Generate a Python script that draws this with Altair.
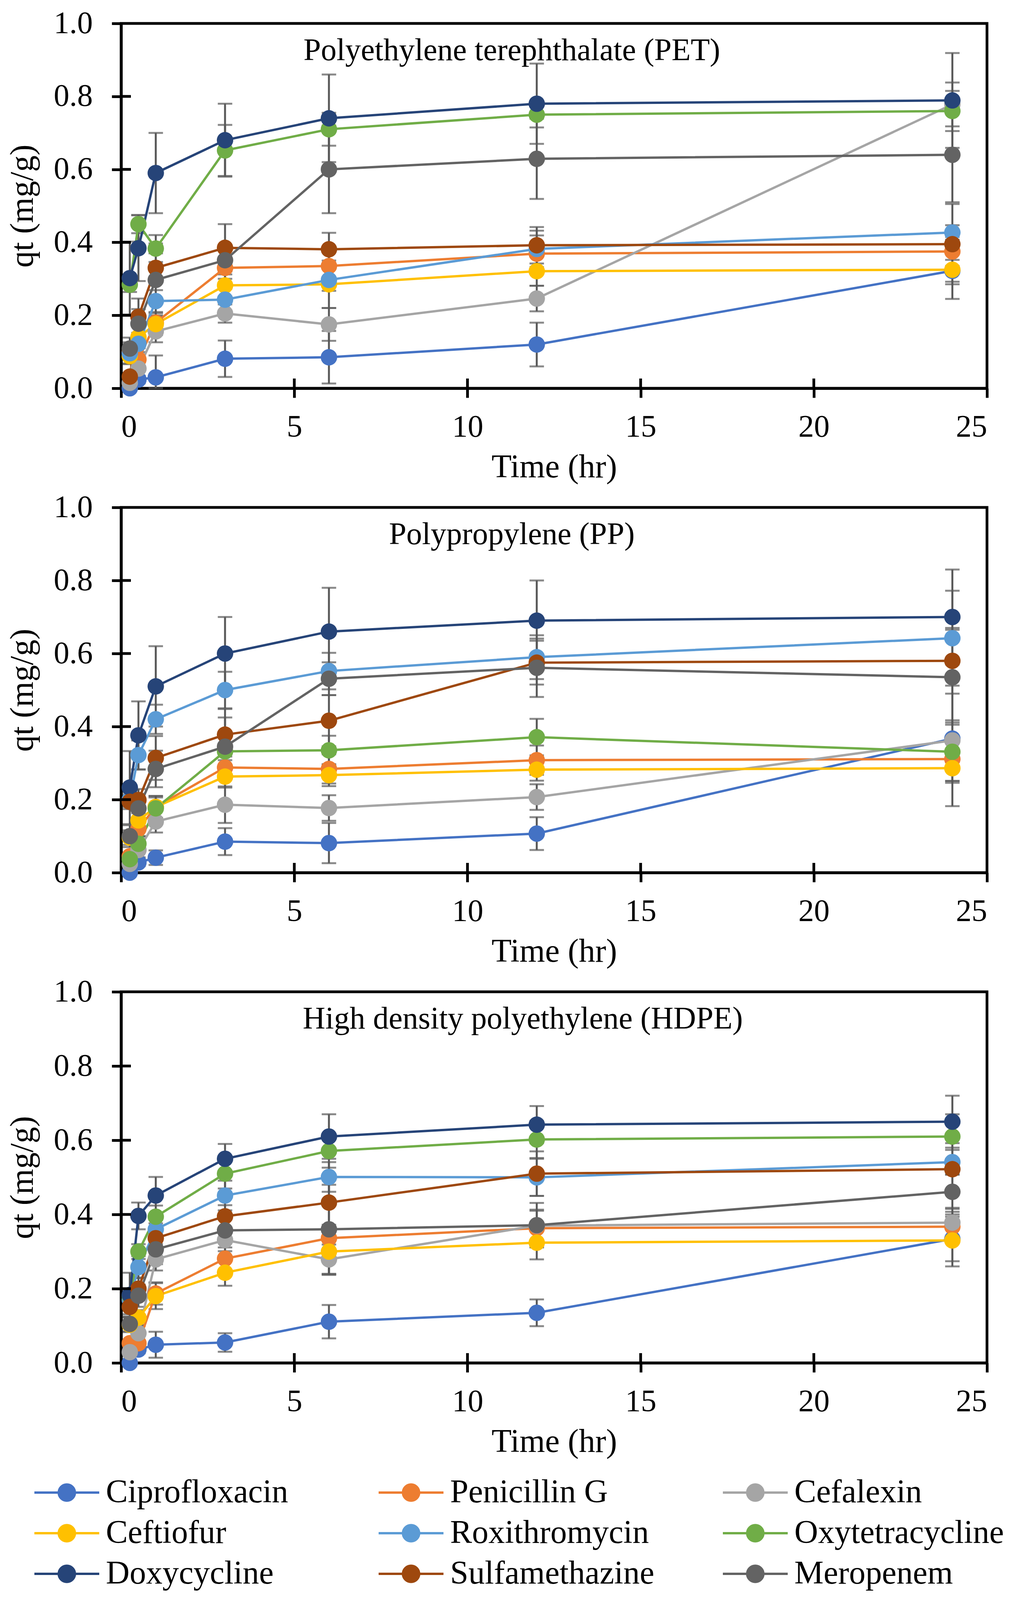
import altair as alt
import pandas as pd

# ---------------- data ----------------
TIMES = [0.25, 0.5, 1, 3, 6, 12, 24]
ANTIBIOTICS = ["Ciprofloxacin", "Penicillin G", "Cefalexin",
               "Ceftiofur", "Roxithromycin", "Oxytetracycline",
               "Doxycycline", "Sulfamethazine", "Meropenem"]
COLORS = ["#4472C4", "#ED7D31", "#A5A5A5",
          "#FFC000", "#5B9BD5", "#70AD47",
          "#264478", "#9E480E", "#636363"]
PANEL_TITLES = ["Polyethylene terephthalate (PET)",
                "Polypropylene (PP)",
                "High density polyethylene (HDPE)"]
X_TICKS = [0, 5, 10, 15, 20, 25]
Y_TICKS = [0.0, 0.2, 0.4, 0.6, 0.8, 1.0]

PET_QT = {
    "Ciprofloxacin":   [0.000, 0.024, 0.030, 0.081, 0.085, 0.120, 0.322],
    "Penicillin G":    [0.100, 0.079, 0.180, 0.330, 0.335, 0.369, 0.375],
    "Cefalexin":       [0.015, 0.054, 0.156, 0.205, 0.175, 0.246, 0.778],
    "Ceftiofur":       [0.088, 0.140, 0.176, 0.282, 0.285, 0.321, 0.325],
    "Roxithromycin":   [0.096, 0.122, 0.239, 0.243, 0.297, 0.382, 0.427],
    "Oxytetracycline": [0.284, 0.450, 0.383, 0.652, 0.710, 0.750, 0.760],
    "Doxycycline":     [0.302, 0.384, 0.590, 0.680, 0.740, 0.780, 0.789],
    "Sulfamethazine":  [0.032, 0.196, 0.330, 0.385, 0.381, 0.392, 0.395],
    "Meropenem":       [0.109, 0.177, 0.297, 0.351, 0.600, 0.629, 0.640],
}
PET_SD = {
    "Ciprofloxacin":   [0.005, 0.010, 0.060, 0.050, 0.072, 0.060, 0.030],
    "Penicillin G":    [0.020, 0.020, 0.020, 0.030, 0.040, 0.050, 0.040],
    "Cefalexin":       [0.010, 0.020, 0.030, 0.025, 0.045, 0.035, 0.060],
    "Ceftiofur":       [0.020, 0.030, 0.030, 0.030, 0.065, 0.040, 0.080],
    "Roxithromycin":   [0.030, 0.030, 0.030, 0.030, 0.030, 0.050, 0.020],
    "Oxytetracycline": [0.020, 0.025, 0.037, 0.070, 0.045, 0.035, 0.055],
    "Doxycycline":     [0.100, 0.090, 0.110, 0.100, 0.120, 0.110, 0.130],
    "Sulfamethazine":  [0.010, 0.050, 0.040, 0.065, 0.045, 0.050, 0.110],
    "Meropenem":       [0.030, 0.040, 0.100, 0.030, 0.120, 0.110, 0.130],
}

PP_QT = {
    "Ciprofloxacin":   [0.000, 0.028, 0.041, 0.085, 0.081, 0.107, 0.367],
    "Penicillin G":    [0.045, 0.120, 0.180, 0.288, 0.284, 0.308, 0.311],
    "Cefalexin":       [0.024, 0.062, 0.140, 0.186, 0.177, 0.207, 0.362],
    "Ceftiofur":       [0.096, 0.143, 0.180, 0.263, 0.267, 0.282, 0.286],
    "Roxithromycin":   [0.200, 0.322, 0.420, 0.500, 0.552, 0.590, 0.642],
    "Oxytetracycline": [0.037, 0.079, 0.176, 0.332, 0.335, 0.371, 0.331],
    "Doxycycline":     [0.233, 0.376, 0.510, 0.600, 0.660, 0.690, 0.700],
    "Sulfamethazine":  [0.194, 0.199, 0.314, 0.378, 0.416, 0.575, 0.580],
    "Meropenem":       [0.100, 0.176, 0.284, 0.345, 0.531, 0.561, 0.535],
}
PP_SD = {
    "Ciprofloxacin":   [0.005, 0.010, 0.020, 0.037, 0.055, 0.045, 0.050],
    "Penicillin G":    [0.010, 0.020, 0.030, 0.030, 0.040, 0.040, 0.060],
    "Cefalexin":       [0.010, 0.020, 0.030, 0.050, 0.035, 0.035, 0.180],
    "Ceftiofur":       [0.020, 0.020, 0.030, 0.030, 0.030, 0.030, 0.040],
    "Roxithromycin":   [0.020, 0.040, 0.040, 0.050, 0.050, 0.060, 0.130],
    "Oxytetracycline": [0.010, 0.020, 0.030, 0.050, 0.040, 0.050, 0.080],
    "Doxycycline":     [0.100, 0.093, 0.110, 0.100, 0.120, 0.110, 0.130],
    "Sulfamethazine":  [0.020, 0.030, 0.060, 0.070, 0.070, 0.060, 0.090],
    "Meropenem":       [0.030, 0.040, 0.050, 0.080, 0.045, 0.080, 0.130],
}

HDPE_QT = {
    "Ciprofloxacin":   [0.000, 0.036, 0.049, 0.055, 0.111, 0.135, 0.334],
    "Penicillin G":    [0.053, 0.053, 0.187, 0.281, 0.336, 0.363, 0.367],
    "Cefalexin":       [0.029, 0.080, 0.279, 0.331, 0.279, 0.370, 0.378],
    "Ceftiofur":       [0.103, 0.122, 0.180, 0.243, 0.300, 0.324, 0.330],
    "Roxithromycin":   [0.170, 0.258, 0.360, 0.451, 0.501, 0.500, 0.541],
    "Oxytetracycline": [0.180, 0.300, 0.394, 0.510, 0.571, 0.602, 0.610],
    "Doxycycline":     [0.183, 0.396, 0.451, 0.550, 0.610, 0.642, 0.650],
    "Sulfamethazine":  [0.151, 0.200, 0.336, 0.395, 0.432, 0.510, 0.522],
    "Meropenem":       [0.105, 0.181, 0.306, 0.357, 0.360, 0.371, 0.461],
}
HDPE_SD = {
    "Ciprofloxacin":   [0.005, 0.010, 0.035, 0.025, 0.045, 0.036, 0.060],
    "Penicillin G":    [0.010, 0.020, 0.030, 0.030, 0.030, 0.050, 0.040],
    "Cefalexin":       [0.010, 0.020, 0.030, 0.030, 0.040, 0.040, 0.040],
    "Ceftiofur":       [0.020, 0.020, 0.035, 0.035, 0.063, 0.045, 0.070],
    "Roxithromycin":   [0.020, 0.030, 0.040, 0.040, 0.040, 0.050, 0.033],
    "Oxytetracycline": [0.020, 0.020, 0.030, 0.040, 0.045, 0.050, 0.060],
    "Doxycycline":     [0.060, 0.036, 0.050, 0.040, 0.060, 0.050, 0.070],
    "Sulfamethazine":  [0.020, 0.030, 0.040, 0.030, 0.060, 0.060, 0.070],
    "Meropenem":       [0.020, 0.030, 0.040, 0.030, 0.120, 0.060, 0.046],
}

PANELS = [(PET_QT, PET_SD), (PP_QT, PP_SD), (HDPE_QT, HDPE_SD)]

# ---------------- style ----------------
FONT = "Liberation Serif"
PLOT_W = 2216
PLOT_H = [934, 935, 950]
TITLE_X = [1000, 1000, 1028]
TITLE_Y = 94
IN_TICK = 25
LEGEND_PATH = ("M-1,0L1,0M-0.25,0A0.25,0.25,0,1,1,0.25,0"
               "A0.25,0.25,0,1,1,-0.25,0Z")


def make_frame(qt, sd):
    rows = []
    for name in ANTIBIOTICS:
        for t, v, e in zip(TIMES, qt[name], sd[name]):
            rows.append({"drug": name, "t": t, "qt": v,
                         "lo": max(0.0, v - e), "hi": min(1.0, v + e)})
    return pd.DataFrame(rows)


xscale = alt.Scale(domain=[0, 25], nice=False, zero=False)
yscale = alt.Scale(domain=[0, 1], nice=False)
xaxis = alt.Axis(values=X_TICKS, format="d", title="Time (hr)",
                 labelFont=FONT, titleFont=FONT)
yaxis = alt.Axis(values=Y_TICKS, format=".1f", title="qt (mg/g)",
                 labelFont=FONT, titleFont=FONT)

legend = alt.Legend(
    title=None, orient="none", legendX=-225, legendY=3713,
    direction="horizontal",
    columns=3, gridAlign="all", columnPadding=158, rowPadding=8,
    clipHeight=96, padding=0,
    symbolType=LEGEND_PATH, symbolSize=27556, symbolStrokeWidth=6,
    symbolOpacity=1,
    labelFont=FONT, labelFontSize=84, labelColor="black",
    labelOffset=14, labelLimit=1200,
)
color = alt.Color("drug:N", scale=alt.Scale(domain=ANTIBIOTICS, range=COLORS),
                  sort=ANTIBIOTICS, legend=legend)


def panel(i):
    qt, sd = PANELS[i]
    df = make_frame(qt, sd)
    h = PLOT_H[i]
    x = alt.X("t:Q", scale=xscale, axis=xaxis)

    bars = alt.Chart(df).mark_errorbar(
        color="#595959", thickness=5, size=37, ticks=True
    ).encode(
        x=x,
        y=alt.Y("lo:Q", scale=yscale, axis=yaxis, title="qt (mg/g)"),
        y2="hi:Q",
    )
    lines = alt.Chart(df).mark_line(strokeWidth=6).encode(
        x=x, y=alt.Y("qt:Q", scale=yscale, axis=yaxis, title="qt (mg/g)"),
        color=color, order=alt.Order("t:Q"),
    )
    dots = alt.Chart(df).mark_circle(size=1770, opacity=1).encode(
        x=x, y=alt.Y("qt:Q", scale=yscale, axis=yaxis, title="qt (mg/g)"),
        color=color,
    )
    ytick = alt.Chart(pd.DataFrame({"v": Y_TICKS[1:-1]})).mark_rule(
        color="black", strokeWidth=7
    ).encode(
        y=alt.Y("v:Q", scale=yscale, axis=yaxis, title="qt (mg/g)"),
        x=alt.value(0), x2=alt.value(IN_TICK),
    )
    xtick = alt.Chart(pd.DataFrame({"v": X_TICKS[1:-1]})).mark_rule(
        color="black", strokeWidth=7
    ).encode(
        x=alt.X("v:Q", scale=xscale, axis=xaxis),
        y=alt.value(h - IN_TICK), y2=alt.value(h),
    )
    title = alt.Chart(pd.DataFrame({"label": [PANEL_TITLES[i]]})).mark_text(
        font=FONT, fontSize=80, color="black", align="center",
        baseline="alphabetic"
    ).encode(text="label:N", x=alt.value(TITLE_X[i]), y=alt.value(TITLE_Y))

    return alt.layer(bars, lines, dots, ytick, xtick, title).properties(
        width=PLOT_W, height=h
    )


chart = alt.vconcat(panel(0), panel(1), panel(2), spacing=305,
                    bounds="flush").properties(
    padding={"left": 4, "top": 8, "right": 5, "bottom": 5}
).configure_view(
    stroke="black", strokeWidth=7
).configure_axis(
    grid=False, domainColor="black", domainWidth=7,
    tickColor="black", tickWidth=7, tickSize=24,
    labelFont=FONT, labelFontSize=80, labelColor="black",
    titleFont=FONT, titleFontSize=84, titleFontWeight="normal",
    titleColor="black",
).configure_axisX(
    labelPadding=36, titlePadding=22, labelFont=FONT, titleFont=FONT
).configure_axisY(
    labelPadding=49, titlePadding=36, labelFont=FONT, titleFont=FONT
)

chart.save("out.html", embed_options={"renderer": "svg", "actions": False})
